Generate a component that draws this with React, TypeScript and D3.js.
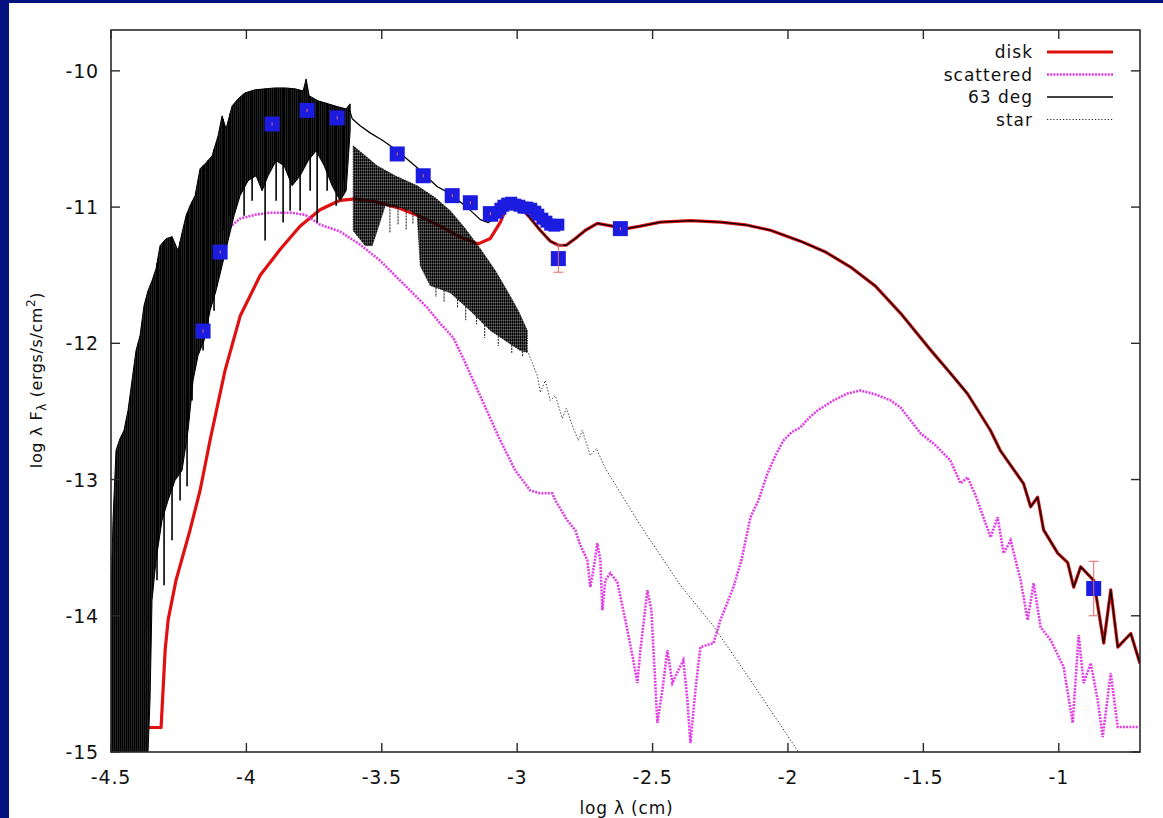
import React from "react";
import * as d3 from "d3";

type P = [number, number];

// ---------- axis ticks ----------
const xTicks = [-4.5, -4, -3.5, -3, -2.5, -2, -1.5, -1];
const yTicks = [-15, -14, -13, -12, -11, -10];

// ---------- legend ----------
const legendLabels = ["disk", "scattered", "63 deg", "star"];

// ---------- disk model (red) ----------
const disk: P[] = [
  [-4.40, -14.82], [-4.315, -14.82], [-4.30, -14.25], [-4.289, -14.03], [-4.26, -13.74],
  [-4.208, -13.37], [-4.171, -13.08], [-4.134, -12.71], [-4.079, -12.20], [-4.023, -11.80],
  [-3.949, -11.50], [-3.875, -11.31], [-3.802, -11.14], [-3.728, -11.02], [-3.654, -10.95],
  [-3.598, -10.94], [-3.524, -10.96], [-3.432, -11.01], [-3.358, -11.07], [-3.284, -11.14],
  [-3.21, -11.22], [-3.144, -11.27], [-3.099, -11.23], [-3.062, -11.11], [-3.037, -10.99],
  [-3.018, -10.96], [-2.989, -11.00], [-2.952, -11.08], [-2.915, -11.17], [-2.878, -11.25],
  [-2.848, -11.28], [-2.819, -11.28], [-2.785, -11.23], [-2.748, -11.17], [-2.704, -11.12],
  [-2.649, -11.14], [-2.601, -11.16], [-2.545, -11.14], [-2.471, -11.11], [-2.36, -11.10],
  [-2.249, -11.11], [-2.157, -11.13], [-2.065, -11.17], [-1.954, -11.25], [-1.861, -11.33],
  [-1.769, -11.44], [-1.677, -11.58], [-1.584, -11.78], [-1.473, -12.05], [-1.40, -12.22],
  [-1.337, -12.37], [-1.252, -12.64], [-1.215, -12.79], [-1.13, -13.03], [-1.104, -13.20],
  [-1.078, -13.13], [-1.056, -13.37], [-1.004, -13.54], [-0.967, -13.61], [-0.945, -13.79],
  [-0.919, -13.64], [-0.871, -13.74], [-0.834, -14.20], [-0.808, -13.81], [-0.782, -14.23],
  [-0.734, -14.13], [-0.70, -14.35],
];

// ---------- 63 deg model: dense photospheric part (envelopes + line spikes) ----------
const inc63Upper: P[] = [
  [-4.5, -13.886], [-4.4926, -13.299], [-4.4815, -12.786], [-4.4667, -12.698], [-4.452, -12.639],
  [-4.4372, -12.493], [-4.4224, -12.273], [-4.4076, -12.053], [-4.3928, -11.943], [-4.378, -11.723],
  [-4.3633, -11.613], [-4.3485, -11.540], [-4.3337, -11.452], [-4.3189, -11.283], [-4.2967, -11.232],
  [-4.2746, -11.217], [-4.2524, -11.320], [-4.2376, -11.188], [-4.2228, -11.063], [-4.2081, -10.990],
  [-4.1896, -10.916], [-4.1711, -10.718], [-4.1489, -10.674], [-4.1267, -10.623], [-4.1046, -10.477],
  [-4.0898, -10.330], [-4.075, -10.425], [-4.0528, -10.257], [-4.0307, -10.205], [-4.0048, -10.161],
  [-3.9678, -10.139], [-3.9309, -10.132], [-3.8939, -10.125], [-3.857, -10.125], [-3.82, -10.132],
  [-3.7905, -10.147], [-3.7794, -10.059], [-3.7683, -10.183], [-3.735, -10.220], [-3.6981, -10.242],
  [-3.6611, -10.264], [-3.6316, -10.279], [-3.6168, -10.242],
];
const inc63Lower: P[] = [
  [-4.5, -15.0], [-4.3633, -15.0], [-4.3559, -14.619], [-4.3485, -13.886], [-4.3337, -13.592],
  [-4.3115, -13.299], [-4.2894, -13.153], [-4.2635, -13.006], [-4.2376, -12.933], [-4.2154, -12.639],
  [-4.197, -12.273], [-4.1785, -12.089], [-4.1563, -11.980], [-4.1341, -11.760], [-4.112, -11.613],
  [-4.0898, -11.430], [-4.0676, -11.246], [-4.0455, -11.063], [-4.0233, -10.916], [-3.9937, -10.806],
  [-3.9642, -10.770], [-3.942, -10.880], [-3.9198, -10.770], [-3.8902, -10.660], [-3.8607, -10.696],
  [-3.8311, -10.843], [-3.8016, -10.770], [-3.772, -10.660], [-3.7424, -10.587], [-3.7129, -10.696],
  [-3.6833, -10.843], [-3.6537, -10.953], [-3.6316, -10.880], [-3.6168, -10.440],
];
// absorption lines: [log lambda, bottom value]
const inc63Spikes: P[] = [
  [-4.330, -13.739], [-4.304, -13.776], [-4.2746, -13.446], [-4.245, -13.153], [-4.2191, -13.050],
  [-4.2007, -12.419], [-4.160, -12.053], [-4.1415, -11.906], [-4.1194, -11.760], [-4.0861, -11.173],
  [-4.0602, -11.063], [-4.0085, -11.063], [-3.9789, -10.953], [-3.9309, -11.246], [-3.8902, -10.953],
  [-3.8644, -11.114], [-3.8385, -11.026], [-3.8016, -11.026], [-3.7646, -10.880], [-3.7387, -11.114],
  [-3.7018, -10.880], [-3.6685, -10.990], [-3.6426, -10.806],
];
// 63 deg smooth continuation (before it merges with the disk curve)
const inc63Smooth: P[] = [
  [-3.624, -10.257], [-3.609, -10.352], [-3.580, -10.403], [-3.543, -10.455], [-3.495, -10.513],
  [-3.443, -10.587], [-3.369, -10.711], [-3.295, -10.850], [-3.247, -10.902], [-3.184, -11.004],
  [-3.136, -11.092], [-3.107, -11.114], [-3.074, -11.063], [-3.044, -10.975],
];

// ---------- star model ----------
const starUpper: P[] = [
  [-3.6057, -10.550], [-3.5613, -10.623], [-3.517, -10.696], [-3.4505, -10.770], [-3.369, -10.843],
  [-3.3027, -10.931], [-3.2472, -11.026], [-3.1918, -11.158], [-3.1364, -11.305], [-3.0809, -11.466],
  [-3.0329, -11.628], [-2.9959, -11.760], [-2.9627, -11.906],
];
const starLower: P[] = [
  [-3.6057, -11.173], [-3.5613, -11.283], [-3.5355, -11.283], [-3.517, -11.173], [-3.4874, -10.990],
  [-3.432, -11.004], [-3.395, -11.026], [-3.369, -11.063], [-3.3581, -11.430], [-3.3211, -11.576],
  [-3.2472, -11.628], [-3.1733, -11.760], [-3.0994, -11.906], [-3.044, -11.980], [-2.9885, -12.053],
  [-2.9627, -12.067],
];
// line streaks below the star band: [log lambda, bottom value]
const starSpikes: P[] = [
  [-3.47, -11.19], [-3.44, -11.13], [-3.41, -11.17], [-3.385, -11.12], [-3.30, -11.66],
  [-3.27, -11.70], [-3.22, -11.74], [-3.19, -11.83], [-3.15, -11.86], [-3.12, -11.96],
  [-3.07, -12.02], [-3.02, -12.07], [-2.98, -12.10],
];
const starTail: P[] = [
  [-2.9627, -12.053], [-2.9257, -12.236], [-2.9146, -12.361], [-2.8962, -12.273], [-2.8777, -12.419],
  [-2.8592, -12.383], [-2.8333, -12.551], [-2.8185, -12.478], [-2.7964, -12.603], [-2.7742, -12.713],
  [-2.7594, -12.639], [-2.7299, -12.823], [-2.7077, -12.771], [-2.6744, -12.918], [-2.5451, -13.336],
  [-2.3973, -13.776], [-2.2753, -14.076], [-2.1386, -14.472], [-1.9908, -14.912], [-1.9612, -15.0],
];

// ---------- scattered light (magenta) ----------
const scattered: P[] = [
  [-4.4963, -13.592], [-4.4593, -13.153], [-4.4076, -12.639], [-4.3744, -12.346], [-4.3189, -12.016],
  [-4.245, -11.686], [-4.1711, -11.466], [-4.1231, -11.283], [-4.0861, -11.188], [-4.0233, -11.085],
  [-3.9678, -11.056], [-3.9124, -11.041], [-3.8385, -11.041], [-3.7831, -11.056], [-3.7276, -11.129],
  [-3.6537, -11.180], [-3.5798, -11.276], [-3.5059, -11.393], [-3.4061, -11.591], [-3.3322, -11.738],
  [-3.2842, -11.855], [-3.2361, -11.958], [-3.1992, -12.111], [-3.1659, -12.258], [-3.129, -12.419],
  [-3.0957, -12.566], [-3.0625, -12.713], [-3.007, -12.933], [-2.952, -13.079], [-2.915, -13.101],
  [-2.8703, -13.101], [-2.8592, -13.153], [-2.8149, -13.299], [-2.7853, -13.372], [-2.7668, -13.482],
  [-2.7409, -13.592], [-2.7299, -13.790], [-2.7188, -13.666], [-2.7040, -13.468], [-2.6929, -13.592],
  [-2.6855, -13.959], [-2.6744, -13.739], [-2.6559, -13.688], [-2.6301, -13.754], [-2.6005, -14.032],
  [-2.5746, -14.289], [-2.5562, -14.494], [-2.5451, -14.252], [-2.5192, -13.812], [-2.5044, -13.959],
  [-2.4823, -14.787], [-2.4638, -14.545], [-2.4453, -14.252], [-2.4268, -14.494], [-2.4047, -14.399],
  [-2.3862, -14.326], [-2.3714, -14.619], [-2.3603, -14.934], [-2.3418, -14.545], [-2.3234, -14.230],
  [-2.3012, -14.216], [-2.2753, -14.201], [-2.2494, -14.032], [-2.2014, -13.790], [-2.1718, -13.592],
  [-2.1386, -13.277], [-2.109, -13.153], [-2.0758, -12.955], [-2.0462, -12.823], [-2.0166, -12.713],
  [-1.9871, -12.654], [-1.9538, -12.617], [-1.9242, -12.551], [-1.891, -12.493], [-1.8614, -12.456],
  [-1.8318, -12.419], [-1.7801, -12.368], [-1.7321, -12.346], [-1.6766, -12.375], [-1.6212, -12.419],
  [-1.5843, -12.471], [-1.5103, -12.661], [-1.4549, -12.749], [-1.4005, -12.859], [-1.3625, -13.028],
  [-1.3367, -12.984], [-1.3071, -13.116], [-1.2517, -13.424], [-1.2258, -13.277], [-1.2036, -13.541],
  [-1.1777, -13.446], [-1.1408, -13.739], [-1.1149, -14.032], [-1.0927, -13.761], [-1.0669, -14.084],
  [-1.0299, -14.179], [-0.9819, -14.377], [-0.9486, -14.787], [-0.9265, -14.142], [-0.908, -14.494],
  [-0.8821, -14.348], [-0.8562, -14.619], [-0.8378, -14.890], [-0.8082, -14.421], [-0.7823, -14.817],
  [-0.7084, -14.817],
];

// ---------- observations ----------
const photX = [-4.16, -4.097, -3.905, -3.776, -3.665, -3.443, -3.347, -3.240, -3.173, -3.099, -2.848, -2.619, -0.871];
const photY = [-11.91, -11.33, -10.39, -10.29, -10.345, -10.61, -10.77, -10.916, -10.968, -11.048, -11.378, -11.158, -13.80];
const photErr = [0.012, 0.012, 0.012, 0.012, 0.012, 0.012, 0.012, 0.012, 0.012, 0.012, 0.1, 0.012, 0.2];
const irsX = [-3.092, -3.074, -3.062, -3.051, -3.037, -3.022, -3.007, -2.992, -2.977, -2.963, -2.948, -2.933, -2.922, -2.907, -2.892, -2.878, -2.863, -2.848];
const irsY = [-11.063, -11.041, -11.012, -10.990, -10.975, -10.968, -10.982, -10.990, -11.004, -11.004, -11.012, -11.034, -11.056, -11.085, -11.107, -11.129, -11.136, -11.129];

const FONT = "'DejaVu Sans', 'Liberation Sans', Arial, sans-serif";
const RED = "#e01010";
const MAG = "#e23ce6";
const BLUE = "#1c1ce0";

export default function App() {
  const W = 1163, H = 818;
  const L = 111, R = 1140, T = 30, B = 752;
  const x = d3.scaleLinear().domain([-4.5, -0.7]).range([L, R]);
  const y = d3.scaleLinear().domain([-15, -9.7]).range([B, T]);
  const line = d3.line<P>().x((d) => x(d[0])).y((d) => y(d[1]));
  const poly = (up: P[], lo: P[]) => line([...up, ...[...lo].reverse()]) + "Z";
  const interp = (arr: P[], xv: number) => {
    for (let i = 0; i < arr.length - 1; i++) {
      if (xv >= arr[i][0] && xv <= arr[i + 1][0]) {
        const t = (xv - arr[i][0]) / (arr[i + 1][0] - arr[i][0]);
        return arr[i][1] + t * (arr[i + 1][1] - arr[i][1]);
      }
    }
    return arr[arr.length - 1][1];
  };
  const inc63Line: P[] = [...inc63Smooth, ...disk.filter((d) => d[0] > -3.03)];
  const tick = 9;

  const legendRowY = (i: number) => 52 + i * 22.5;

  return (
    <svg width={W} height={H} style={{ position: "absolute", left: 0, top: 0, display: "block" }}>
      <rect x={0} y={0} width={W} height={H} fill="#03127e" />
      <rect x={9} y={3} width={W - 9} height={H - 3} fill="#ffffff" />
      <defs>
        <clipPath id="plotclip">
          <rect x={L} y={T} width={R - L} height={B - T} />
        </clipPath>
        <pattern id="hatchDense" width={2} height={3} patternUnits="userSpaceOnUse">
          <rect x={0} y={0} width={2} height={3} fill="#000" />
          <rect x={1.6} y={0} width={0.4} height={3} fill="#555" />
        </pattern>
        <pattern id="hatchStar" width={2} height={3} patternUnits="userSpaceOnUse">
          <rect x={0} y={0} width={1.75} height={2.8} fill="#000" />
        </pattern>
      </defs>

      <g clipPath="url(#plotclip)">
        {/* disk */}
        <path d={line(disk) || ""} fill="none" stroke={RED} strokeWidth={3.2} strokeLinejoin="round" />
        {/* scattered */}
        <path d={line(scattered) || ""} fill="none" stroke={MAG} strokeWidth={2.6} strokeDasharray="2,1.2" />
        {/* 63 deg dense part */}
        <path d={poly(inc63Upper, inc63Lower)} fill="url(#hatchDense)" stroke="#000" strokeWidth={1} />
        {inc63Spikes.map((s, i) => (
          <line key={"s" + i} x1={x(s[0])} x2={x(s[0])} y1={y(interp(inc63Upper, s[0]))} y2={y(s[1])} stroke="#000" strokeWidth={1.6} />
        ))}
        <path d={line(inc63Line) || ""} fill="none" stroke="#000" strokeWidth={1.3} strokeLinejoin="round" />
        {/* star */}
        <path d={poly(starUpper, starLower)} fill="url(#hatchStar)" stroke="#111" strokeWidth={0.8} strokeDasharray="1.5,1" />
        {starSpikes.map((s, i) => (
          <line key={"ss" + i} x1={x(s[0])} x2={x(s[0])} y1={y(interp(starLower, s[0]))} y2={y(s[1])} stroke="#111" strokeWidth={1} strokeDasharray="2,1" />
        ))}
        <path d={line(starTail) || ""} fill="none" stroke="#222" strokeWidth={1} strokeDasharray="1.2,2" />
        {/* observations */}
        {irsX.map((v, i) => (
          <rect key={"i" + i} x={x(v) - 6} y={y(irsY[i]) - 6} width={12} height={12} fill={BLUE} />
        ))}
        {photX.map((v, i) => (
          <rect key={"p" + i} x={x(v) - 7.5} y={y(photY[i]) - 7.5} width={15} height={15} fill={BLUE} />
        ))}
        {photX.map((v, i) => {
          const cx = x(v);
          const y1 = y(photY[i] + photErr[i]);
          const y2 = y(photY[i] - photErr[i]);
          const cap = photErr[i] > 0.05 ? 5 : 0;
          return (
            <g key={"e" + i} stroke="#e06a6a" strokeWidth={1}>
              <line x1={cx} x2={cx} y1={y1} y2={y2} />
              {cap > 0 && <line x1={cx - cap} x2={cx + cap} y1={y1} y2={y1} />}
              {cap > 0 && <line x1={cx - cap} x2={cx + cap} y1={y2} y2={y2} />}
            </g>
          );
        })}
      </g>

      {/* frame */}
      <rect x={L} y={T} width={R - L} height={B - T} fill="none" stroke="#2a2a2a" strokeWidth={1.6} />
      {xTicks.map((t) => (
        <g key={"xt" + t} stroke="#2a2a2a" strokeWidth={1.4}>
          <line x1={x(t)} x2={x(t)} y1={B} y2={B - tick} />
          <line x1={x(t)} x2={x(t)} y1={T} y2={T + tick} />
        </g>
      ))}
      {yTicks.map((t) => (
        <g key={"yt" + t} stroke="#2a2a2a" strokeWidth={1.4}>
          <line x1={L} x2={L + tick} y1={y(t)} y2={y(t)} />
          <line x1={R} x2={R - tick} y1={y(t)} y2={y(t)} />
        </g>
      ))}
      {xTicks.map((t) => (
        <text key={"xl" + t} x={x(t)} y={B + 32} textAnchor="middle" fontFamily={FONT} fontSize={19} letterSpacing={0.8} fill="#111">
          {String(t)}
        </text>
      ))}
      {yTicks.map((t) => (
        <text key={"yl" + t} x={L - 12} y={y(t) + 7} textAnchor="end" fontFamily={FONT} fontSize={19} letterSpacing={0.8} fill="#111">
          {String(t)}
        </text>
      ))}

      {/* axis titles */}
      <text x={(L + R) / 2 + 1} y={814} textAnchor="middle" fontFamily={FONT} fontSize={17} letterSpacing={0.8} fill="#111">
        log λ (cm)
      </text>
      <text transform={`translate(42,380) rotate(-90)`} textAnchor="middle" fontFamily={FONT} fontSize={16} letterSpacing={0.6} fill="#111">
        log λ F<tspan dy={4} fontSize={12}>λ</tspan>
        <tspan dy={-4}> (ergs/s/cm</tspan>
        <tspan dy={-7} fontSize={12}>2</tspan>
        <tspan dy={7}>)</tspan>
      </text>

      {/* legend */}
      {legendLabels.map((lab, i) => {
        const ly = legendRowY(i);
        return (
          <g key={"lg" + i}>
            <text x={1033} y={ly + 6} textAnchor="end" fontFamily={FONT} fontSize={17} letterSpacing={1} fill="#111">
              {lab}
            </text>
            {i === 0 && <line x1={1047} x2={1113} y1={ly} y2={ly} stroke={RED} strokeWidth={3.2} />}
            {i === 1 && <line x1={1047} x2={1113} y1={ly} y2={ly} stroke={MAG} strokeWidth={2.6} strokeDasharray="2,1.2" />}
            {i === 2 && <line x1={1047} x2={1113} y1={ly} y2={ly} stroke="#000" strokeWidth={1.3} />}
            {i === 3 && <line x1={1047} x2={1113} y1={ly} y2={ly} stroke="#222" strokeWidth={1} strokeDasharray="1.2,2" />}
          </g>
        );
      })}
    </svg>
  );
}
